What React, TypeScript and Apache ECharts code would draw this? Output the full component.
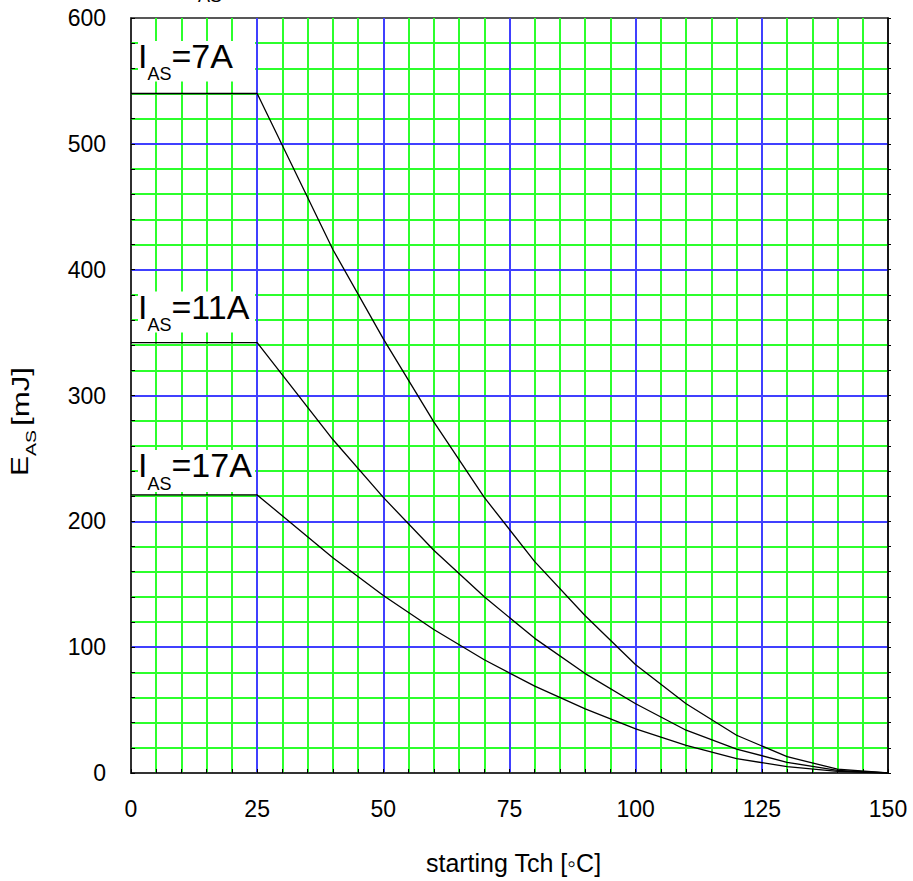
import React, { useEffect, useRef } from "react";
import * as echarts from "echarts";

// Starting channel temperature (°C) at each curve vertex
const tempC = [0, 25, 40, 50, 60, 70, 80, 90, 100, 110, 120, 130, 140, 150];
// Avalanche energy E_AS (mJ) for each avalanche current
const eas7A = [540, 540, 416, 345, 279, 219, 168, 125, 86, 55, 30, 13, 3, 0];
const eas11A = [342, 342, 265, 219, 177, 140, 107, 79, 55, 34, 19, 8.5, 2, 0];
const eas17A = [221, 221, 171, 141, 114, 90, 69, 51, 35, 22, 11.5, 5, 1.3, 0];
const currents = ["7A", "11A", "17A"];

const FONT = "Arial, 'Liberation Sans', sans-serif";
const MAJOR = "#4040ff";
const MINOR = "#2cff2c";

const toPairs = (ys: number[]) => tempC.map((t, i) => [t, ys[i]]);

// "I_AS=xxA" tag with a white backing box
function currentTag(value: string, center: number, subCenter: number) {
  const x0 = 138;
  return {
    type: "group",
    z: 20,
    children: [
      {
        type: "rect",
        z: 20,
        shape: { x: x0, y: center - 15, width: 117, height: subCenter - center + 23 },
        style: { fill: "#ffffff" },
      },
      {
        type: "text",
        z: 21,
        x: x0,
        y: center,
        style: { text: "I", font: `34px ${FONT}`, fill: "#000", verticalAlign: "middle", align: "left" },
      },
      {
        type: "text",
        z: 21,
        x: x0 + 9.5,
        y: subCenter,
        style: { text: "AS", font: `18px ${FONT}`, fill: "#000", verticalAlign: "middle", align: "left" },
      },
      {
        type: "text",
        z: 21,
        x: x0 + 33.5,
        y: center,
        style: { text: "=" + value, font: `34px ${FONT}`, fill: "#000", verticalAlign: "middle", align: "left" },
      },
    ],
  };
}

const hiddenParts = {
  axisLine: { show: false },
  axisTick: { show: false },
  axisLabel: { show: false },
};

const gridLine = (color: string) => ({
  show: true,
  showMinLine: false,
  showMaxLine: false,
  lineStyle: { color, width: 2 },
});

export default function App() {
  const ref = useRef<HTMLDivElement>(null);

  useEffect(() => {
    if (!ref.current) return;
    const chart = echarts.init(ref.current, undefined, { renderer: "svg" });

    const tick = () => ({ show: true, inside: true, length: 4, lineStyle: { color: "#000", width: 1 } });

    const option: any = {
      animation: false,
      backgroundColor: "#ffffff",
      grid: {
        left: 131,
        top: 18,
        width: 757,
        height: 755,
        show: true,
        backgroundColor: "#ffffff",
        borderColor: "#222",
        borderWidth: 1.5,
        containLabel: false,
      },
      xAxis: [
        {
          type: "value",
          min: 0,
          max: 150,
          interval: 25,
          z: 3,
          name: "starting Tch [\u25E6C]",
          nameLocation: "middle",
          nameGap: 90,
          nameTextStyle: { fontFamily: FONT, fontSize: 25, color: "#000", verticalAlign: "middle", padding: [0, 0, 0, 8] },
          axisLine: { show: true, onZero: false, lineStyle: { color: "#333", width: 2 } },
          axisTick: tick(),
          minorTick: { ...tick(), splitNumber: 5 },
          axisLabel: { fontFamily: FONT, fontSize: 23, color: "#000", margin: 24 },
          splitLine: gridLine(MAJOR),
        },
        {
          // fine 5 °C grid
          type: "value",
          min: 0,
          max: 150,
          interval: 5,
          z: 1,
          ...hiddenParts,
          splitLine: gridLine(MINOR),
        },
      ],
      yAxis: [
        {
          type: "value",
          min: 0,
          max: 600,
          interval: 100,
          z: 3,
          axisLine: { show: true, onZero: false, lineStyle: { color: "#222", width: 1.5 } },
          axisTick: tick(),
          minorTick: { ...tick(), splitNumber: 5 },
          axisLabel: { fontFamily: FONT, fontSize: 23, color: "#000", margin: 25 },
          splitLine: gridLine(MAJOR),
        },
        {
          // fine 20 mJ grid
          type: "value",
          min: 0,
          max: 600,
          interval: 20,
          z: 1,
          ...hiddenParts,
          splitLine: gridLine(MINOR),
        },
        {
          type: "value",
          position: "right",
          min: 0,
          max: 600,
          interval: 100,
          z: 3,
          axisLine: { show: true, onZero: false, lineStyle: { color: "#000", width: 1.5 } },
          axisTick: { show: true, inside: false, length: 3, lineStyle: { color: "#000" } },
          minorTick: { show: true, splitNumber: 5, length: 3, lineStyle: { color: "#000" } },
          axisLabel: { show: false },
          splitLine: { show: false },
        },
      ],
      series: [eas7A, eas11A, eas17A].map((ys, i) => ({
        name: "I_AS=" + currents[i],
        type: "line",
        xAxisIndex: 0,
        yAxisIndex: 0,
        data: toPairs(ys),
        showSymbol: false,
        symbol: "none",
        z: 5,
        lineStyle: { color: "#000", width: 1.3 },
        emphasis: { disabled: true },
      })),
      graphic: [
        // chart heading, running off the top edge
        {
          type: "group",
          z: 20,
          children: [
            {
              type: "text",
              x: 176,
              y: -22,
              style: { text: "E", font: `34px ${FONT}`, fill: "#000", verticalAlign: "middle" },
            },
            {
              type: "text",
              x: 198,
              y: -4,
              style: { text: "AS", font: `18px ${FONT}`, fill: "#000", verticalAlign: "middle" },
            },
          ],
        },
        // y-axis title, read bottom to top
        {
          type: "group",
          x: 0,
          y: 476,
          rotation: Math.PI / 2,
          scaleX: 1.3,
          children: [
            {
              type: "text",
              x: 0,
              y: 20.5,
              style: { text: "E", font: `23px ${FONT}`, fill: "#000", verticalAlign: "middle", align: "left" },
            },
            {
              type: "text",
              x: 15.3,
              y: 30.5,
              style: { text: "AS", font: `15px ${FONT}`, fill: "#000", verticalAlign: "middle", align: "left" },
            },
            {
              type: "text",
              x: 38.5,
              y: 20.5,
              style: { text: "[mJ]", font: `24px ${FONT}`, fill: "#000", verticalAlign: "middle", align: "left" },
            },
          ],
        },
        currentTag(currents[0], 56, 73.5),
        currentTag(currents[1], 306.5, 324.5),
        currentTag(currents[2], 465, 484),
      ],
    };

    chart.setOption(option);
    return () => chart.dispose();
  }, []);

  return (
    <div
      ref={ref}
      style={{ position: "absolute", left: 0, top: 0, width: 913, height: 881 }}
    />
  );
}
